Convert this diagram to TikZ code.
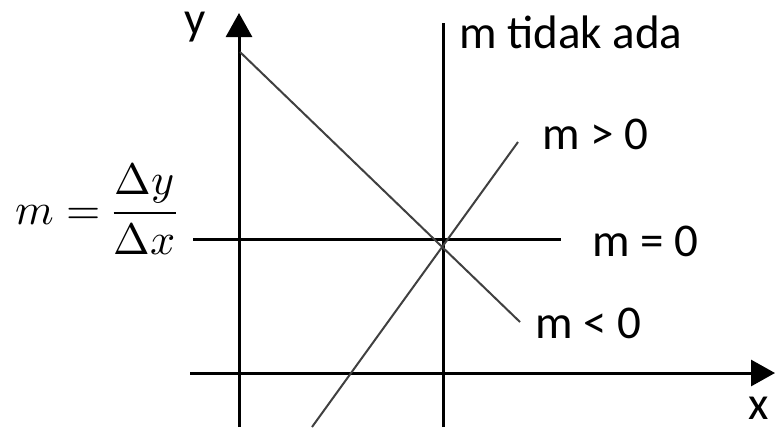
\documentclass[tikz,border=0pt]{standalone}
\usepackage{fontspec}
\usepackage{unicode-math}
\setmainfont{Carlito}
\setmathfont{Latin Modern Math}
\usetikzlibrary{arrows.meta}

\begin{document}
\begin{tikzpicture}[
		x=1pt,y=-1pt,
		axis/.style ={draw,line width=3pt,-{Triangle[length=24pt,width=26pt]}},
		bar/.style  ={draw,line width=3pt},
		slope/.style={draw,line width=2pt,black!75},
		lbl/.style  ={font=\fontsize{47}{50}\selectfont,inner sep=0pt,anchor=base west}
		]
		\useasboundingbox (0,0) rectangle (775,429);

		% ---- end points of the lines ----
		\coordinate (ybot)   at (239,427);
		\coordinate (ytop)   at (239,13);
		\coordinate (xleft)  at (190,373);
		\coordinate (xright) at (775,373);
		\coordinate (vbot)   at (443,427);
		\coordinate (vtop)   at (443,23);
		\coordinate (hleft)  at (193,239);
		\coordinate (hright) at (561,239);
		\coordinate (negtop) at (240,52);
		\coordinate (negend) at (520,322);
		\coordinate (posbot) at (312,427);
		\coordinate (posend) at (518,142);

		% ---- axes ----
		\draw[axis] (ybot) -- (ytop);
		\draw[axis] (xleft) -- (xright);
		\node[lbl] (ylbl) at (184,34) {y};
		\node[lbl] (xlbl) at (748,419) {x};

		% ---- vertical and horizontal lines ----
		\draw[bar] (vbot) -- (vtop);
		\draw[bar] (hleft) -- (hright);

		% ---- sloped lines ----
		\draw[slope] (negtop) -- (negend);
		\draw[slope] (posbot) -- (posend);

		% ---- labels ----
		\node[lbl] (undef) at (459,48)  {m tidak ada};
		\node[lbl] (mpos)  at (542,149) {m > 0};
		\node[lbl] (mzero) at (592,256) {m = 0};
		\node[lbl] (mneg)  at (535,338) {m < 0};

		% ---- slope formula ----
		\node[font=\fontsize{44}{50}\selectfont,inner sep=0pt] (formula) at (96,209)
			{$m=\dfrac{\Delta y}{\Delta x}$};

	\end{tikzpicture}
\end{document}
